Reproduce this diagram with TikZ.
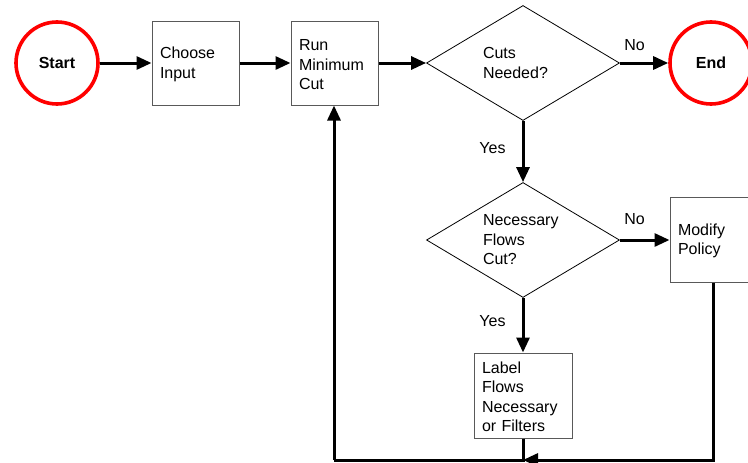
\documentclass[tikz,border=0pt]{standalone}
\usepackage{fontspec}
\setmainfont{Liberation Sans}
\usetikzlibrary{arrows.meta,shapes.geometric}

\begin{document}
\begin{tikzpicture}[x=1pt,y=-1pt,
  every node/.style={font=\fontsize{16}{19.5}\selectfont},
  terminal/.style={circle,draw=red,line width=3.6pt,minimum size=82pt,inner sep=0pt,font=\fontsize{16}{19.5}\selectfont\bfseries},
  process/.style={rectangle,draw=black!65,line width=1pt,fill=white,
    text width=71pt,align=left,inner xsep=8pt,inner ysep=0pt,minimum height=84pt,
    execute at begin node={\rule{0pt}{14.5pt}}},
  decision/.style={diamond,draw=black,line width=0.8pt,aspect=1.68,inner sep=0pt,
    minimum width=193pt,minimum height=115pt,text width=80pt,align=left},
  flow/.style={line width=3pt,line join=miter,-{Triangle[length=15pt,width=13pt]}},
  plain/.style={line width=3pt,line join=miter},
  tag/.style={anchor=base,inner sep=0pt}
]
\useasboundingbox (0,0) rectangle (748,463);

% main line of steps
\node[terminal] (start) at (57,63) {Start};
\node[process] (choose) at (195.5,63) {Choose\\Input};
\node[process] (run) at (334.5,63) {Run\\Minimum\\Cut};
\node[decision] (cuts) at (523,63) {Cuts\\Needed?};
\node[terminal] (end) at (711,63) {End};

% second decision and its outcomes
\node[decision] (flows) at (523,240) {Necessary\\Flows\\Cut?};
\node[process,minimum height=85pt] (modify) at (713.5,239.5) {Modify\\Policy};
\node[process,text width=82pt,minimum height=85pt] (label) at (523,395.5) {Label\\Flows\\Necessary\\or Filters};

% return path along the bottom
\coordinate (jn) at (523,460);
\coordinate (bl) at (334,460);

\draw[flow] (start) -- (choose);
\draw[flow] (choose) -- (run);
\draw[flow] (run) -- (cuts.west);
\draw[flow] (cuts.east) -- (end);
\draw[flow] (cuts.south) -- (flows.north);
\draw[flow] (flows.east) -- (modify.west |- flows.east);
\draw[flow] (flows.south) -- (label.north);
\draw[plain] (label.south) -- (jn) -- (bl);
\draw[flow] (bl) -- (bl |- run.south);
\draw[flow] (modify.south) |- (jn);

% branch labels
\node[tag] (no1) at (634.5,50) {No};
\node[tag] (yes1) at (492.5,153) {Yes};
\node[tag] (no2) at (634.5,224) {No};
\node[tag] (yes2) at (492.5,326) {Yes};
\end{tikzpicture}
\end{document}
